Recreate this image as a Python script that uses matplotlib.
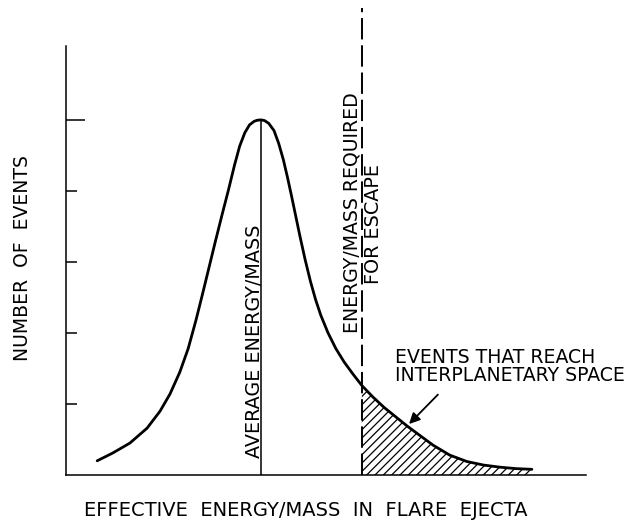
import numpy as np
import matplotlib
matplotlib.use("Agg")
import matplotlib.pyplot as plt

# distribution curve (arbitrary units)
energy = [0.60, 0.90, 1.23, 1.56, 1.81, 2.00, 2.19, 2.35, 2.50, 2.63, 2.75,
          2.87, 3.00, 3.12, 3.24, 3.34, 3.44, 3.53, 3.62, 3.68, 3.75,
          3.82, 3.90, 4.00, 4.09, 4.18, 4.26, 4.34, 4.42, 4.50, 4.60, 4.70,
          4.80, 4.90, 5.04, 5.19, 5.35, 5.52, 5.69, 5.90, 6.12, 6.34, 6.56,
          6.80, 7.06, 7.38, 7.71, 8.03, 8.35, 8.65, 8.96]
events = [0.20, 0.31, 0.45, 0.66, 0.90, 1.14, 1.45, 1.78, 2.18, 2.56, 2.92,
          3.28, 3.66, 4.00, 4.36, 4.63, 4.82, 4.93, 4.98, 4.995, 5.00,
          4.99, 4.95, 4.85, 4.67, 4.44, 4.19, 3.92, 3.64, 3.36, 3.03, 2.73,
          2.47, 2.25, 2.00, 1.78, 1.59, 1.42, 1.26, 1.10, 0.95, 0.82, 0.69,
          0.56, 0.42, 0.28, 0.19, 0.14, 0.11, 0.09, 0.08]

avg_energy = 3.75
escape_energy = 5.69
y_ticks = [1, 2, 3, 4, 5]

plt.rcParams['font.family'] = 'DejaVu Sans'
plt.rcParams['hatch.linewidth'] = 0.9

fig = plt.figure(figsize=(6.35, 5.24), dpi=100)
ax = fig.add_axes([0.1039, 0.0935, 0.8189, 0.8187])

energy = np.array(energy)
events = np.array(events)

ax.plot(energy, events, color='black', lw=2.0, solid_capstyle='round',
        solid_joinstyle='round')

# average energy line from baseline up to the peak
ax.plot([avg_energy, avg_energy], [0, events.max()], color='black', lw=1.1)

# escape threshold, runs above the frame
ax.plot([escape_energy, escape_energy], [0, 6.58], color='black', lw=1.4,
        dashes=(11, 3), clip_on=False)

# hatched tail beyond escape energy
tail = energy >= escape_energy - 1e-6
ax.fill_between(energy[tail], 0, events[tail], facecolor='none',
                edgecolor='black', hatch='////', lw=0)

ax.text(3.63, 1.89, 'AVERAGE ENERGY/MASS', rotation=90, ha='center',
        va='center', fontsize=13.8)
ax.text(5.51, 3.69, 'ENERGY/MASS REQUIRED', rotation=90, ha='center',
        va='center', fontsize=13.6)
ax.text(5.92, 3.54, 'FOR ESCAPE', rotation=90, ha='center', va='center',
        fontsize=13.8)

ax.annotate('', xy=(6.56, 0.69), xytext=(7.19, 1.16),
            arrowprops=dict(arrowstyle='-|>', color='black', lw=1.3,
                            mutation_scale=16))
ax.text(6.33, 1.66, 'EVENTS THAT REACH', ha='left', va='center', fontsize=13.6)
ax.text(6.33, 1.40, 'INTERPLANETARY SPACE', ha='left', va='center',
        fontsize=13.6)

ax.set_xlim(0, 10)
ax.set_ylim(0, 6.04)
ax.spines['top'].set_visible(False)
ax.spines['right'].set_visible(False)
ax.spines['left'].set_linewidth(1.1)
ax.spines['bottom'].set_linewidth(1.1)
ax.set_xticks([])
ax.set_yticks(y_ticks)
ax.set_yticklabels([])
ax.tick_params(axis='y', direction='in', length=8, width=1.1)
ax.yaxis.get_major_ticks()[-1].tick1line.set_markersize(14)

fig.text(306 / 635, 1 - 510 / 524, 'EFFECTIVE  ENERGY/MASS  IN  FLARE  EJECTA',
         ha='center', va='center', fontsize=14)
fig.text(23 / 635, 1 - 258 / 524, 'NUMBER  OF  EVENTS', rotation=90,
         ha='center', va='center', fontsize=13.5)

fig.savefig('out.png', dpi=100)
